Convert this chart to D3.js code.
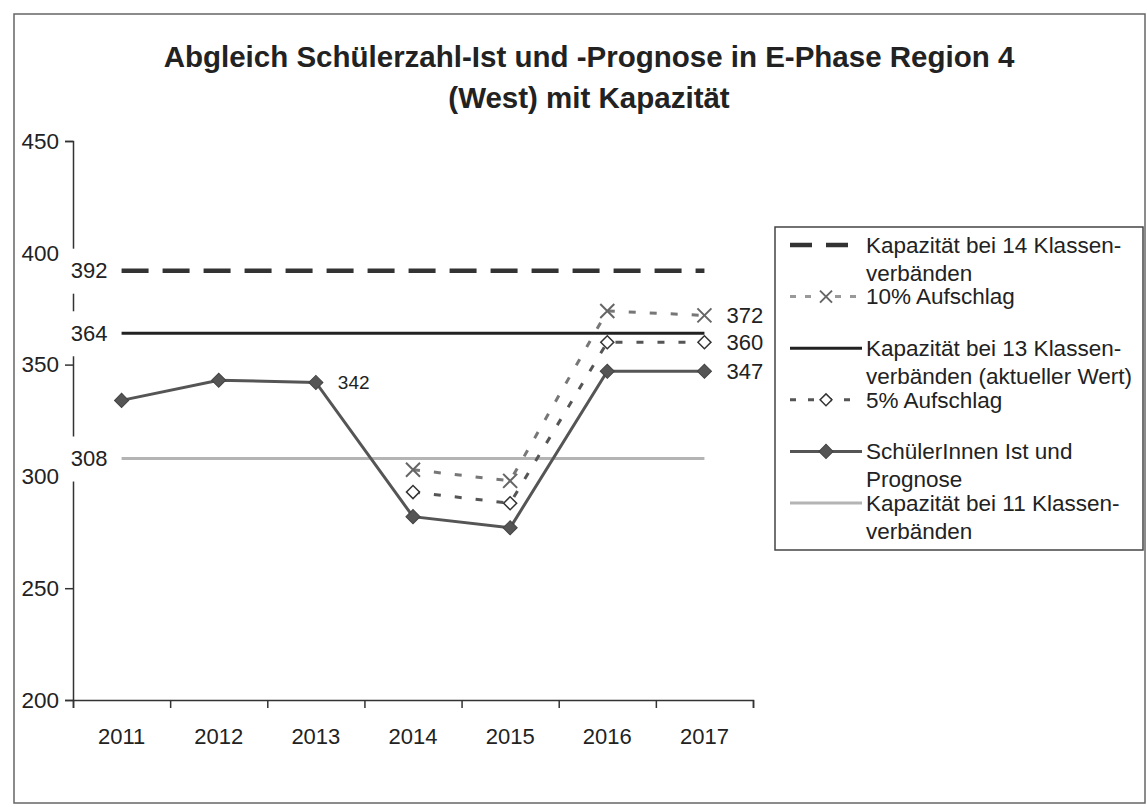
<!DOCTYPE html>
<html>
<head>
<meta charset="utf-8">
<script src="https://cdn.jsdelivr.net/npm/d3@7"></script>
<style>
  body { margin: 0; background: #fff; }
  svg { font-family: "Liberation Sans", Arial, sans-serif; }
</style>
</head>
<body>
<div id="chart"></div>
<script>
// values
var years = ["2011", "2012", "2013", "2014", "2015", "2016", "2017"];
var istPrognose = [334, 343, 342, 282, 277, 347, 347];
var aufschlag5 = [null, null, null, 293, 288, 360, 360];
var aufschlag10 = [null, null, null, 303, 298, 374, 372];
var kap14 = [392, 392, 392, 392, 392, 392, 392];
var kap13 = [364, 364, 364, 364, 364, 364, 364];
var kap11 = [308, 308, 308, 308, 308, 308, 308];
var yTicks = [200, 250, 300, 350, 400, 450];
var titleLines = ["Abgleich Schülerzahl-Ist und -Prognose in E-Phase Region 4", "(West) mit Kapazität"];
var legendItems = [
  { key: "kap14", lines: ["Kapazität bei 14 Klassen-", "verbänden"] },
  { key: "p10", lines: ["10% Aufschlag"] },
  { key: "kap13", lines: ["Kapazität bei 13 Klassen-", "verbänden (aktueller Wert)"] },
  { key: "p5", lines: ["5% Aufschlag"] },
  { key: "ist", lines: ["SchülerInnen Ist und", "Prognose"] },
  { key: "kap11", lines: ["Kapazität bei 11 Klassen-", "verbänden"] }
];

var W = 1147, H = 807;
var plot = { left: 73, right: 753, top: 141, bottom: 700 };

var svg = d3.select("#chart").append("svg")
  .attr("width", W).attr("height", H);

// outer frame of the scanned page
svg.append("rect")
  .attr("x", 14).attr("y", 14)
  .attr("width", 1131).attr("height", 789)
  .attr("fill", "none").attr("stroke", "#666").attr("stroke-width", 1.5);

// title
svg.append("g").selectAll("text")
  .data(titleLines).enter().append("text")
  .attr("x", 589)
  .attr("y", function (d, i) { return 67 + i * 41; })
  .attr("text-anchor", "middle")
  .style("font-size", "29.5px")
  .style("font-weight", "bold")
  .style("fill", "#222")
  .text(function (d) { return d; });

var x = d3.scaleBand().domain(years).range([plot.left, plot.right]);
var xEdge = d3.scaleLinear().domain([0, years.length]).range([plot.left, plot.right]);
var y = d3.scaleLinear().domain([200, 450]).range([plot.bottom, plot.top]);
var cx = function (i) { return x(years[i]) + x.bandwidth() / 2; };

// y axis
var yAxis = svg.append("g")
  .attr("transform", "translate(" + plot.left + ",0)")
  .call(d3.axisLeft(y).tickValues(yTicks).tickSize(8).tickPadding(6));
yAxis.select(".domain").attr("stroke", "#333").attr("stroke-width", 1.5);
yAxis.selectAll(".tick line").attr("stroke", "#333").attr("stroke-width", 1.5);
yAxis.selectAll(".tick text")
  .style("font-size", "22.5px").style("fill", "#222");

// x axis: ticks between categories, labels at centers
var xTicks = svg.append("g")
  .attr("transform", "translate(0," + plot.bottom + ")")
  .call(d3.axisBottom(xEdge).tickValues(d3.range(years.length + 1)).tickSize(8).tickFormat(""));
xTicks.select(".domain").attr("stroke", "#333").attr("stroke-width", 1.5);
xTicks.selectAll(".tick line").attr("stroke", "#333").attr("stroke-width", 1.5);

var xLabels = svg.append("g")
  .attr("transform", "translate(0," + plot.bottom + ")")
  .call(d3.axisBottom(x).tickSize(0).tickPadding(28));
xLabels.select(".domain").remove();
xLabels.selectAll(".tick text")
  .style("font-size", "22px").style("fill", "#222");

var line = d3.line()
  .defined(function (d) { return d != null; })
  .x(function (d, i) { return cx(i); })
  .y(function (d) { return y(d); });

function drawLine(data, stroke, width, dash) {
  svg.append("path")
    .datum(data)
    .attr("fill", "none")
    .attr("stroke", stroke)
    .attr("stroke-width", width)
    .attr("stroke-dasharray", dash)
    .attr("d", line);
}

drawLine(kap11, "#b4b4b4", 3, null);
drawLine(kap14, "#333", 4.5, "27,14");
drawLine(kap13, "#222", 3, null);
drawLine(aufschlag10, "#777", 3, "7,14");
drawLine(aufschlag5, "#555", 3, "7,14");
drawLine(istPrognose, "#555", 3, null);

var diamond = d3.symbol().type(d3.symbolSquare);

function xMark(sel, s) {
  sel.append("path")
    .attr("d", "M" + (-s) + "," + (-s) + "L" + s + "," + s + "M" + (-s) + "," + s + "L" + s + "," + (-s))
    .attr("fill", "none").attr("stroke", "#666").attr("stroke-width", 2);
}

// 10% markers
aufschlag10.forEach(function (v, i) {
  if (v == null) return;
  var g = svg.append("g").attr("transform", "translate(" + cx(i) + "," + y(v) + ")");
  xMark(g, 7);
});

// 5% markers
aufschlag5.forEach(function (v, i) {
  if (v == null) return;
  svg.append("path")
    .attr("d", diamond.size(85)())
    .attr("transform", "translate(" + cx(i) + "," + y(v) + ") rotate(45)")
    .attr("fill", "#fff").attr("stroke", "#333").attr("stroke-width", 1.5);
});

// main series markers
istPrognose.forEach(function (v, i) {
  svg.append("path")
    .attr("d", diamond.size(100)())
    .attr("transform", "translate(" + cx(i) + "," + y(v) + ") rotate(45)")
    .attr("fill", "#555").attr("stroke", "#444").attr("stroke-width", 1);
});

// labels at the left end of the capacity lines, boxed in white (they break the axis)
[kap14, kap13, kap11].forEach(function (arr) {
  var v = arr[0];
  svg.append("rect")
    .attr("x", plot.left - 9).attr("y", y(v) - 22)
    .attr("width", 50).attr("height", 45)
    .attr("fill", "#fff");
  svg.append("text")
    .attr("x", cx(0) - 14).attr("y", y(v))
    .attr("dy", "0.35em")
    .attr("text-anchor", "end")
    .style("font-size", "22px").style("fill", "#222")
    .text(v);
});

// value labels next to points
function valueLabel(arr, i, size) {
  svg.append("text")
    .attr("x", cx(i) + 22).attr("y", y(arr[i]))
    .attr("dy", "0.35em")
    .style("font-size", size + "px").style("fill", "#222")
    .text(arr[i]);
}
valueLabel(istPrognose, 2, 19);
valueLabel(aufschlag10, 6, 22);
valueLabel(aufschlag5, 6, 22);
valueLabel(istPrognose, 6, 22);

// legend
var legend = svg.append("g");
legend.append("rect")
  .attr("x", 775).attr("y", 227)
  .attr("width", 368).attr("height", 323)
  .attr("fill", "#fff").attr("stroke", "#444").attr("stroke-width", 1.5);

legendItems.forEach(function (item, i) {
  var ly = 245 + i * 51.6;
  var g = legend.append("g").attr("transform", "translate(0," + ly + ")");
  var sx1 = 790, sx2 = 862, mid = (sx1 + sx2) / 2;
  if (item.key == "kap14") {
    g.append("line").attr("x1", sx1).attr("x2", sx2).attr("y1", 0).attr("y2", 0)
      .attr("stroke", "#333").attr("stroke-width", 4.5).attr("stroke-dasharray", "22,14");
  } else if (item.key == "kap13") {
    g.append("line").attr("x1", sx1).attr("x2", sx2).attr("y1", 0).attr("y2", 0)
      .attr("stroke", "#222").attr("stroke-width", 3);
  } else if (item.key == "kap11") {
    g.append("line").attr("x1", sx1).attr("x2", sx2).attr("y1", 0).attr("y2", 0)
      .attr("stroke", "#b4b4b4").attr("stroke-width", 3);
  } else if (item.key == "p10") {
    g.append("line").attr("x1", sx1).attr("x2", sx2).attr("y1", 0).attr("y2", 0)
      .attr("stroke", "#999").attr("stroke-width", 3).attr("stroke-dasharray", "6,9");
    var m = g.append("g").attr("transform", "translate(" + mid + ",0)");
    m.append("rect").attr("x", -8).attr("y", -8).attr("width", 16).attr("height", 16).attr("fill", "#fff");
    xMark(m, 6);
  } else if (item.key == "p5") {
    g.append("line").attr("x1", sx1).attr("x2", sx2).attr("y1", 0).attr("y2", 0)
      .attr("stroke", "#555").attr("stroke-width", 3).attr("stroke-dasharray", "6,12");
    g.append("path").attr("d", diamond.size(70)())
      .attr("transform", "translate(" + mid + ",0) rotate(45)")
      .attr("fill", "#fff").attr("stroke", "#333").attr("stroke-width", 1.5);
  } else if (item.key == "ist") {
    g.append("line").attr("x1", sx1).attr("x2", sx2).attr("y1", 0).attr("y2", 0)
      .attr("stroke", "#555").attr("stroke-width", 3);
    g.append("path").attr("d", diamond.size(100)())
      .attr("transform", "translate(" + mid + ",0) rotate(45)")
      .attr("fill", "#555").attr("stroke", "#444");
  }
  g.selectAll("text").data(item.lines).enter().append("text")
    .attr("x", 866)
    .attr("y", function (d, j) { return j * 28; })
    .attr("dy", "0.35em")
    .style("font-size", "22.5px").style("fill", "#222")
    .text(function (d) { return d; });
});
</script>
</body>
</html>
